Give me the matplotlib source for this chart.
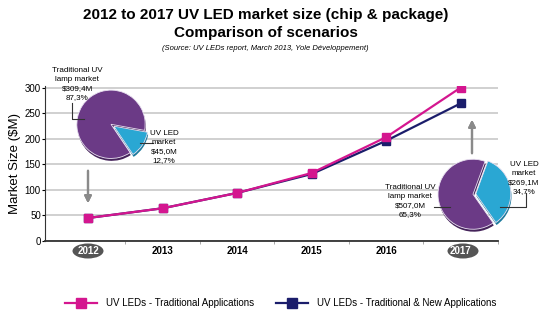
import matplotlib.pyplot as plt
from matplotlib.patches import Ellipse
from matplotlib.lines import Line2D

plt.rcParams['font.family'] = ['Liberation Sans', 'DejaVu Sans']

years = ['2012', '2013', '2014', '2015', '2016', '2017']
traditional = [45, 64, 94, 133, 203, 300]
trad_new = [45, 64, 94, 131, 196, 269.1]

pie_2012 = [45.0, 309.4]     # UV LED, traditional UV lamp
pie_2017 = [269.1, 507.0]
share_2012 = ['12,7%', '87,3%']
share_2017 = ['34,7%', '65,3%']

PINK = '#d4168f'
NAVY = '#1b1d6b'
PURPLE = '#6b3a86'
BLUE = '#2aa7d3'

W, H = 542, 324
fig = plt.figure(figsize=(W / 100, H / 100), dpi=100)


def px(x, y):
    return x / W, 1 - y / H


def money(v):
    return ('$%.1fM' % v).replace('.', ',')


ax = fig.add_axes([45 / W, 1 - 241 / H, 453 / W, 155 / H])
x = range(len(years))
ax.plot(x, traditional, color=PINK, lw=1.6, marker='s', ms=5.5, zorder=3)
ax.plot(x, trad_new, color=NAVY, lw=1.6, marker='s', ms=5.5, zorder=2)
ax.set_xlim(-0.58, 5.5)
ax.set_ylim(0, 303)
ax.set_yticks([0, 50, 100, 150, 200, 250, 300])
ax.set_xticks(list(x))
ax.set_xticklabels(years, fontsize=7, fontweight='bold')
ax.set_xticks([0.5, 1.5, 2.5, 3.5, 4.5, 5.5], minor=True)
ax.tick_params(axis='x', which='major', length=0, pad=3.5)
ax.tick_params(axis='x', which='minor', length=2, color='#999999')
ax.tick_params(axis='y', labelsize=7, length=2, pad=1)
ax.grid(axis='y', color='#c8c8c8', lw=1.2)
ax.set_axisbelow(True)
for s in ['top', 'right']:
    ax.spines[s].set_visible(False)
ax.spines['bottom'].set_color('#333333')
ax.spines['bottom'].set_linewidth(1.3)
ax.spines['left'].set_color('#333333')
ax.set_ylabel('Market Size ($M)', fontsize=9.5)
ax.yaxis.set_label_coords(-0.052, 0.5)

# highlighted years
for lbl in ax.get_xticklabels():
    if lbl.get_text() in ('2012', '2017'):
        lbl.set_color('white')
for cx in (88, 463):
    e = Ellipse(px(cx, 251), 31 / W, 15 / H, transform=fig.transFigure,
                facecolor='#555555', edgecolor='none', zorder=0.1, clip_on=False)
    ax.add_artist(e)

# titles
fig.text(0.49, 1 - 15 / H, '2012 to 2017 UV LED market size (chip & package)',
         ha='center', va='center', fontsize=11, fontweight='bold')
fig.text(0.49, 1 - 33 / H, 'Comparison of scenarios',
         ha='center', va='center', fontsize=11, fontweight='bold')
fig.text(0.49, 1 - 49 / H, '(Source: UV LEDs report, March 2013, Yole Développement)',
         ha='center', va='center', fontsize=5.5, style='italic')


def draw_pie(cx, cy, size, values, start, explode):
    pax = fig.add_axes([(cx - size / 2) / W, 1 - (cy + size / 2) / H, size / W, size / H])
    pax.axis('off')
    pax.pie(values, colors=['#1c7a9c', '#45235a'], startangle=start,
            explode=[explode, 0], center=(0.02, -0.07), radius=1.0,
            wedgeprops=dict(linewidth=0))
    pax.pie(values, colors=[BLUE, PURPLE], startangle=start,
            explode=[explode, 0], radius=1.0,
            wedgeprops=dict(linewidth=0.6, edgecolor='#e8e0f0'))
    pax.set_xlim(-1.2, 1.2)
    pax.set_ylim(-1.25, 1.15)
    return pax


draw_pie(111, 126, 82, pie_2012, -56, 0.1)
draw_pie(473, 196, 84, pie_2017, -55, 0.08)

# pie labels and leader lines
fs = 5.8
ls = 1.35
fig.text(*px(77, 84), 'Traditional UV\nlamp market\n%s\n%s' % (money(pie_2012[1]), share_2012[1]),
         ha='center', va='center', fontsize=fs, linespacing=ls)
fig.text(*px(164, 147), 'UV LED\nmarket\n%s\n%s' % (money(pie_2012[0]), share_2012[0]),
         ha='center', va='center', fontsize=fs, linespacing=ls)
fig.text(*px(524, 178), 'UV LED\nmarket\n%s\n%s' % (money(pie_2017[0]), share_2017[0]),
         ha='center', va='center', fontsize=fs, linespacing=ls)
fig.text(*px(410, 201), 'Traditional UV\nlamp market\n%s\n%s' % (money(pie_2017[1]), share_2017[1]),
         ha='center', va='center', fontsize=fs, linespacing=ls)

leaders = [
    [(72, 103), (72, 119), (84, 119)],
    [(140, 143), (153, 143)],
    [(526, 193), (526, 207), (500, 207)],
    [(434, 207), (450, 207)],
]
for pts in leaders:
    xs = [p[0] / W for p in pts]
    ys = [1 - p[1] / H for p in pts]
    fig.lines.append(Line2D(xs, ys, transform=fig.transFigure, color='#333333', lw=0.8))

# arrows
for x0, y0, y1 in [(88, 168, 206), (472, 156, 117)]:
    fig.add_artist(plt.annotate('', xy=px(x0, y1), xytext=px(x0, y0),
                                xycoords='figure fraction',
                                arrowprops=dict(arrowstyle='-|>', color='#8a8a8a', lw=1.6,
                                                mutation_scale=10)))

# legend
for x0, col, label in [(65, PINK, 'UV LEDs - Traditional Applications'),
                       (276, NAVY, 'UV LEDs - Traditional & New Applications')]:
    fig.lines.append(Line2D([x0 / W, (x0 + 32) / W], [1 - 303 / H] * 2,
                            transform=fig.transFigure, color=col, lw=1.6))
    fig.lines.append(Line2D([(x0 + 16) / W], [1 - 303 / H], transform=fig.transFigure,
                            color=col, marker='s', ms=7))
    fig.text(*px(x0 + 41, 303), label, ha='left', va='center', fontsize=7)

fig.savefig('out.png', dpi=100)
